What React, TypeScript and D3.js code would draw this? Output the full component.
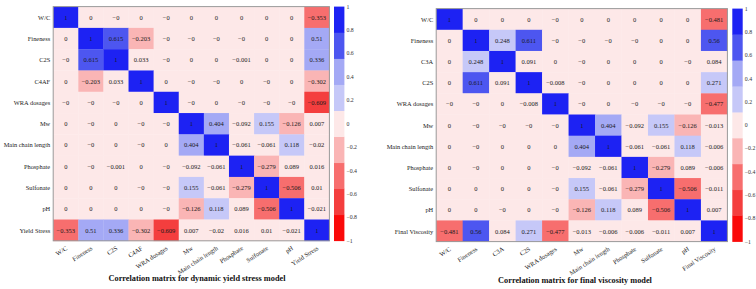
import React from "react"
import * as d3 from "d3"

const YIELD_LABELS = ["W/C", "Fineness", "C2S", "C4AF", "WRA dosages", "Mw", "Main chain length", "Phosphate", "Sulfonate", "pH", "Yield Stress"]
const VISC_LABELS = ["W/C", "Fineness", "C3A", "C2S", "WRA dosages", "Mw", "Main chain length", "Phosphate", "Sulfonate", "pH", "Final Viscosity"]

// correlation rows, -0 kept on purpose (the figure prints "−0")
const YIELD_MATRIX = [
  [1, 0, -0, 0, -0, 0, 0, 0, 0, 0, -0.353],
  [0, 1, 0.615, -0.203, -0, -0, -0, -0, 0, 0, 0.51],
  [-0, 0.615, 1, 0.033, -0, 0, 0, -0.001, 0, 0, 0.336],
  [0, -0.203, 0.033, 1, 0, -0, -0, 0, -0, 0, -0.302],
  [-0, -0, -0, 0, 1, -0, 0, -0, -0, -0, -0.609],
  [0, -0, 0, -0, -0, 1, 0.404, -0.092, 0.155, -0.126, 0.007],
  [0, -0, 0, -0, 0, 0.404, 1, -0.061, -0.061, 0.118, -0.02],
  [0, -0, -0.001, 0, -0, -0.092, -0.061, 1, -0.279, 0.089, 0.016],
  [0, 0, 0, -0, -0, 0.155, -0.061, -0.279, 1, -0.506, 0.01],
  [0, 0, 0, 0, -0, -0.126, 0.118, 0.089, -0.506, 1, -0.021],
  [-0.353, 0.51, 0.336, -0.302, -0.609, 0.007, -0.02, 0.016, 0.01, -0.021, 1],
]

const VISC_MATRIX = [
  [1, 0, 0, 0, -0, 0, 0, 0, 0, 0, -0.481],
  [0, 1, 0.248, 0.611, -0, -0, -0, -0, 0, 0, 0.56],
  [0, 0.248, 1, 0.091, 0, -0, 0, 0, 0, -0, 0.084],
  [0, 0.611, 0.091, 1, -0.008, -0, 0, 0, 0, 0, 0.271],
  [-0, -0, 0, -0.008, 1, -0, 0, -0, -0, -0, -0.477],
  [0, -0, -0, -0, -0, 1, 0.404, -0.092, 0.155, -0.126, -0.013],
  [0, -0, 0, 0, 0, 0.404, 1, -0.061, -0.061, 0.118, -0.006],
  [0, -0, 0, 0, -0, -0.092, -0.061, 1, -0.279, 0.089, -0.006],
  [0, 0, 0, 0, -0, 0.155, -0.061, -0.279, 1, -0.506, -0.011],
  [0, 0, -0, 0, -0, -0.126, 0.118, 0.089, -0.506, 1, 0.007],
  [-0.481, 0.56, 0.084, 0.271, -0.477, -0.013, -0.006, -0.006, -0.011, 0.007, 1],
]

const BAR_TICKS = [1, 0.8, 0.6, 0.4, 0.2, 0, -0.2, -0.4, -0.6, -0.8, -1]

// 9 discrete bins, red (-1) to blue (+1)
const BIN_COLORS = ["#fa0a0a", "#f43e3e", "#f76e6e", "#fab5b5", "#fde8e8", "#c6c8f8", "#a4a9f5", "#4d56f0", "#1d22f3"]

const FONT = "'Liberation Serif', 'Times New Roman', serif"

const color = d3.scaleQuantize<string>().domain([-1, 1]).range(BIN_COLORS)

function fmt(v: number) {
  const neg = v < 0 || Object.is(v, -0)
  return (neg ? "\u2212" : "") + String(Math.abs(v))
}

type PanelProps = {
  labels: string[]
  values: number[][]
  x0: number
  x1: number
  y0: number
  y1: number
  barX: number
  title: string
  titleX: number
  titleY: number
}

function Panel({ labels, values, x0, x1, y0, y1, barX, title, titleX, titleY }: PanelProps) {
  const x = d3.scaleBand().domain(labels).range([x0, x1])
  const y = d3.scaleBand().domain(labels).range([y0, y1])
  const bw = x.bandwidth()
  const bh = y.bandwidth()
  const barY = d3.scaleLinear().domain([1, -1]).range([y0, y1])
  const edges = [-1, ...color.thresholds(), 1]

  return (
    <g style={{ fontFamily: FONT }}>
      {/* cells */}
      {values.map((row, i) =>
        row.map((v, j) => (
          <g key={i + "-" + j}>
            <rect x={x(labels[j])} y={y(labels[i])} width={bw + 0.3} height={bh + 0.3} fill={color(v)} />
            <text
              x={(x(labels[j]) as number) + bw / 2}
              y={(y(labels[i]) as number) + bh / 2}
              fontSize={6.5}
              fill="#1a1a1a"
              textAnchor="middle"
              dominantBaseline="central"
            >
              {fmt(v)}
            </text>
          </g>
        ))
      )}
      <rect x={x0} y={y0} width={x1 - x0} height={y1 - y0} fill="none" stroke="#9a9a9a" strokeWidth={1} />

      {/* row labels */}
      {labels.map(l => (
        <text
          key={"r" + l}
          x={x0 - 3}
          y={(y(l) as number) + bh / 2}
          fontSize={6.4}
          fill="#222"
          textAnchor="end"
          dominantBaseline="central"
        >
          {l}
        </text>
      ))}

      {/* column labels */}
      {labels.map(l => (
        <text
          key={"c" + l}
          transform={`translate(${(x(l) as number) + bw / 2 + 2}, ${y1 + 8.5}) rotate(-33)`}
          fontSize={6.4}
          fill="#222"
          textAnchor="end"
        >
          {l}
        </text>
      ))}

      {/* colour bar */}
      {BIN_COLORS.map((c, k) => (
        <rect
          key={"b" + k}
          x={barX}
          y={barY(edges[k + 1])}
          width={10.4}
          height={barY(edges[k]) - barY(edges[k + 1]) + 0.3}
          fill={c}
        />
      ))}
      {BAR_TICKS.map(t => (
        <text
          key={"t" + t}
          x={barX + 12.5}
          y={barY(t)}
          fontSize={5.8}
          fill="#333"
          dominantBaseline="central"
        >
          {fmt(t)}
        </text>
      ))}

      <text x={titleX} y={titleY} fontSize={8.3} fontWeight="bold" textAnchor="middle" fill="#111">
        {title}
      </text>
    </g>
  )
}

export default function App() {
  return (
    <div style={{ position: "absolute", left: 0, top: 0 }}>
      <svg width={756} height={289} style={{ display: "block", background: "#fff" }}>
        <Panel
          labels={YIELD_LABELS}
          values={YIELD_MATRIX}
          x0={53.2}
          x1={329.4}
          y0={6.6}
          y1={240.8}
          barX={334}
          title="Correlation matrix for dynamic yield stress model"
          titleX={197}
          titleY={281}
        />
        <Panel
          labels={VISC_LABELS}
          values={VISC_MATRIX}
          x0={436.2}
          x1={727.4}
          y0={8.6}
          y1={241.6}
          barX={732.3}
          title="Correlation matrix for final viscosity model"
          titleX={575}
          titleY={283}
        />
      </svg>
    </div>
  )
}
